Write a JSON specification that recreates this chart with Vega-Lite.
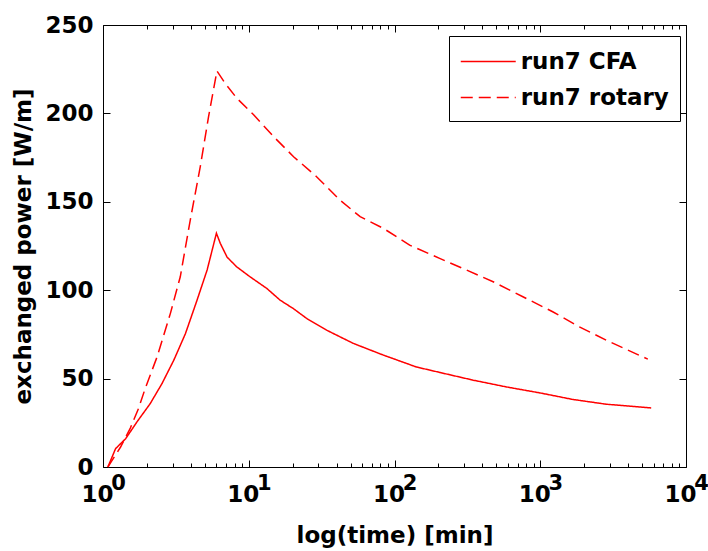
{
  "$schema": "https://vega.github.io/schema/vega-lite/v6.json",
  "width": 583,
  "height": 442,
  "autosize": {"type": "none"},
  "padding": {"left": 103, "top": 25, "right": 22, "bottom": 84},
  "background": "white",
  "config": {
    "view": {"stroke": "#000", "strokeWidth": 1},
    "axis": {
      "grid": false, "domain": false,
      "labelFont": "DejaVu Sans", "labelFontSize": 23, "labelFontWeight": "bold", "labelColor": "#000",
      "tickColor": "#000", "tickWidth": 1,
      "titleFont": "DejaVu Sans", "titleFontSize": 23, "titleFontWeight": "bold", "titleColor": "#000",
      "labelFlush": false, "labelOverlap": false
    }
  },
  "data": {"values": [
    {"s": "run7 CFA", "t": 1.08, "v": 0},
    {"s": "run7 CFA", "t": 1.22, "v": 10.4},
    {"s": "run7 CFA", "t": 1.43, "v": 16},
    {"s": "run7 CFA", "t": 1.71, "v": 25.5},
    {"s": "run7 CFA", "t": 2.11, "v": 35.9},
    {"s": "run7 CFA", "t": 2.54, "v": 47.2},
    {"s": "run7 CFA", "t": 3.06, "v": 60.4},
    {"s": "run7 CFA", "t": 3.68, "v": 75.5},
    {"s": "run7 CFA", "t": 4.42, "v": 94.4},
    {"s": "run7 CFA", "t": 5.18, "v": 111.4},
    {"s": "run7 CFA", "t": 6.0, "v": 132.2},
    {"s": "run7 CFA", "t": 6.38, "v": 126.5},
    {"s": "run7 CFA", "t": 7.1, "v": 118.7},
    {"s": "run7 CFA", "t": 8.27, "v": 113.2},
    {"s": "run7 CFA", "t": 10.2, "v": 107.6},
    {"s": "run7 CFA", "t": 13.3, "v": 101},
    {"s": "run7 CFA", "t": 16.4, "v": 94.4},
    {"s": "run7 CFA", "t": 20.3, "v": 89.5},
    {"s": "run7 CFA", "t": 25, "v": 84},
    {"s": "run7 CFA", "t": 34.2, "v": 77.4},
    {"s": "run7 CFA", "t": 52.2, "v": 69.9},
    {"s": "run7 CFA", "t": 83.8, "v": 63.3},
    {"s": "run7 CFA", "t": 141, "v": 56.6},
    {"s": "run7 CFA", "t": 204, "v": 53.5},
    {"s": "run7 CFA", "t": 347, "v": 49.1},
    {"s": "run7 CFA", "t": 585, "v": 45.3},
    {"s": "run7 CFA", "t": 996, "v": 41.9},
    {"s": "run7 CFA", "t": 1675, "v": 38.2},
    {"s": "run7 CFA", "t": 2842, "v": 35.5},
    {"s": "run7 CFA", "t": 5770, "v": 33.4},
    {"s": "run7 rotary", "t": 1.08, "v": 0},
    {"s": "run7 rotary", "t": 1.32, "v": 11.3},
    {"s": "run7 rotary", "t": 1.54, "v": 22},
    {"s": "run7 rotary", "t": 1.75, "v": 33},
    {"s": "run7 rotary", "t": 1.95, "v": 44.5},
    {"s": "run7 rotary", "t": 2.35, "v": 62.3},
    {"s": "run7 rotary", "t": 2.9, "v": 86.9},
    {"s": "run7 rotary", "t": 3.39, "v": 107.6},
    {"s": "run7 rotary", "t": 3.97, "v": 139.7},
    {"s": "run7 rotary", "t": 4.65, "v": 169.9},
    {"s": "run7 rotary", "t": 5.3, "v": 198.2},
    {"s": "run7 rotary", "t": 6.05, "v": 224},
    {"s": "run7 rotary", "t": 6.89, "v": 217},
    {"s": "run7 rotary", "t": 8.28, "v": 208.6},
    {"s": "run7 rotary", "t": 10.8, "v": 199.2},
    {"s": "run7 rotary", "t": 14.8, "v": 186.9},
    {"s": "run7 rotary", "t": 20.3, "v": 175.5},
    {"s": "run7 rotary", "t": 29.2, "v": 164.2},
    {"s": "run7 rotary", "t": 42.2, "v": 151},
    {"s": "run7 rotary", "t": 58.1, "v": 141.6},
    {"s": "run7 rotary", "t": 83.8, "v": 135},
    {"s": "run7 rotary", "t": 127, "v": 125.5},
    {"s": "run7 rotary", "t": 204, "v": 118},
    {"s": "run7 rotary", "t": 312, "v": 111.4},
    {"s": "run7 rotary", "t": 475, "v": 104.8},
    {"s": "run7 rotary", "t": 760, "v": 96.3},
    {"s": "run7 rotary", "t": 1217, "v": 87.8},
    {"s": "run7 rotary", "t": 1855, "v": 79.3},
    {"s": "run7 rotary", "t": 2842, "v": 71.7},
    {"s": "run7 rotary", "t": 5470, "v": 61}
  ]},
  "layer": [
    {
      "mark": {"type": "line", "color": "#ff0000", "strokeWidth": 1.5},
      "encoding": {
        "x": {"field": "t", "type": "quantitative", "scale": {"type": "log", "domain": [1, 10000], "nice": false},
          "axis": {"orient": "bottom", "values": [1, 10, 100, 1000, 10000], "tickSize": -7, "labelPadding": 23, "labelExpr": "'10'", "labelOffset": -6, "title": "log(time) [min]", "titlePadding": 18}},
        "y": {"field": "v", "type": "quantitative", "scale": {"domain": [0, 250], "nice": false},
          "axis": {"orient": "left", "values": [0, 50, 100, 150, 200, 250], "tickSize": -7, "labelPadding": 17, "title": "exchanged power [W/m]", "titlePadding": 9}},
        "strokeDash": {"field": "s", "type": "nominal",
          "scale": {"domain": ["run7 CFA", "run7 rotary"], "range": [[1, 0], [12, 6]]},
          "legend": {"title": null, "orient": "none", "legendX": 346, "legendY": 11, "padding": 11,
            "strokeColor": "#000", "fillColor": "#fff", "symbolType": "M-2,0H2", "symbolSize": 756, "symbolOffset": 13.75,
            "symbolStrokeWidth": 1.5, "symbolStrokeColor": "#ff0000",
            "labelFont": "DejaVu Sans", "labelFontSize": 23, "labelFontWeight": "bold", "labelColor": "#000",
            "labelOffset": 18, "rowPadding": 9, "labelLimit": 300}}
      }
    },
    {
      "mark": {"type": "line", "strokeOpacity": 0},
      "encoding": {
        "x": {"field": "t", "type": "quantitative",
          "axis": {"orient": "bottom", "values": [2, 3, 4, 5, 6, 7, 8, 9, 20, 30, 40, 50, 60, 70, 80, 90, 200, 300, 400, 500, 600, 700, 800, 900, 2000, 3000, 4000, 5000, 6000, 7000, 8000, 9000], "tickSize": -4, "labels": false, "title": null}},
        "y": {"field": "v", "type": "quantitative",
          "axis": {"orient": "right", "values": [0, 50, 100, 150, 200, 250], "tickSize": -7, "labels": false, "title": null}}
      }
    },
    {
      "mark": {"type": "line", "strokeOpacity": 0},
      "encoding": {
        "x": {"field": "t", "type": "quantitative",
          "axis": {"orient": "top", "values": [1, 10, 100, 1000, 10000], "tickSize": -7, "labels": false, "title": null}},
        "y": {"field": "v", "type": "quantitative", "axis": null}
      }
    },
    {
      "mark": {"type": "line", "strokeOpacity": 0},
      "encoding": {
        "x": {"field": "t", "type": "quantitative",
          "axis": {"orient": "top", "values": [2, 3, 4, 5, 6, 7, 8, 9, 20, 30, 40, 50, 60, 70, 80, 90, 200, 300, 400, 500, 600, 700, 800, 900, 2000, 3000, 4000, 5000, 6000, 7000, 8000, 9000], "tickSize": -4, "labels": false, "title": null}},
        "y": {"field": "v", "type": "quantitative", "axis": null}
      }
    },
    {
      "mark": {"type": "line", "strokeOpacity": 0},
      "encoding": {
        "x": {"field": "t", "type": "quantitative",
          "axis": {"orient": "bottom", "values": [1, 10, 100, 1000, 10000], "ticks": false, "labelPadding": 5, "labelOffset": 15, "labelFontSize": 21, "labelExpr": "'' + round(log(datum.value) / LN10)", "title": null}},
        "y": {"field": "v", "type": "quantitative", "axis": null}
      }
    }
  ],
  "resolve": {"axis": {"x": "independent", "y": "independent"}}
}
